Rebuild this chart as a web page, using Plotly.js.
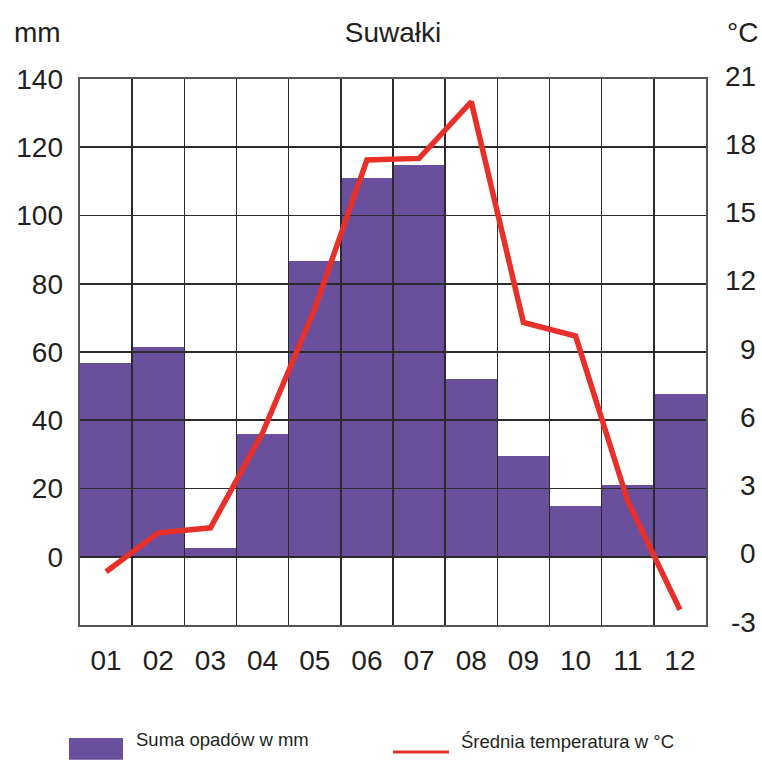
<!DOCTYPE html>
<html>
<head>
<meta charset="utf-8">
<script src="https://cdn.plot.ly/plotly-3.0.1.min.js"></script>
<style>
html,body{margin:0;padding:0;background:#fff;}
#chart{width:762px;height:760px;}
</style>
</head>
<body>
<div id="chart"></div>
<script>
const months = ['01','02','03','04','05','06','07','08','09','10','11','12'];
const precipitation = [56.7, 61.4, 2.7, 35.9, 86.7, 111.1, 114.8, 52.0, 29.4, 14.9, 21.0, 47.7];
const temperature = [-0.66, 1.05, 1.27, 5.45, 10.9, 17.44, 17.51, 20.0, 10.3, 9.7, 2.45, -2.33];
const mmTicks = [0, 20, 40, 60, 80, 100, 120, 140];
const tempTicks = [-3, 0, 3, 6, 9, 12, 15, 18, 21];
const chartTitle = 'Suwałki';
const leftUnit = 'mm';
const rightUnit = '°C';
const precipName = 'Suma opadów w mm';
const tempName = 'Średnia temperatura w °C';

const FONT = 'Liberation Sans, Arial, sans-serif';
const TXT = '#231f20';
const GRID = '#2b2b2b';
const PURPLE = '#6a4f9d';
const RED = '#e8302a';
const catRange = [-0.5, months.length - 0.5];

const traces = [
  {type:'bar', x: months, y: precipitation, xaxis:'x', yaxis:'y',
   marker:{color: PURPLE, line:{width:0}}, name: precipName, hoverinfo:'skip'},
  {type:'scatter', mode:'lines', x: months, y: temperature, xaxis:'x2', yaxis:'y2',
   line:{color: RED, width: 5.5}, name: tempName, hoverinfo:'skip'}
];

const annotations = [
  {text: leftUnit, xref:'paper', yref:'paper', x:-0.1086, y:1.086, xanchor:'left', yanchor:'middle', showarrow:false, font:{family:FONT, size:28, color:TXT}},
  {text: rightUnit, xref:'paper', yref:'paper', x:1.086, y:1.086, xanchor:'right', yanchor:'middle', showarrow:false, font:{family:FONT, size:28, color:TXT}},
  {text: precipName, xref:'paper', yref:'paper', x:0.0863, y:-0.2088, xanchor:'left', yanchor:'middle', showarrow:false, font:{family:FONT, size:18.5, color:TXT}},
  {text: tempName, xref:'paper', yref:'paper', x:0.6054, y:-0.2125, xanchor:'left', yanchor:'middle', showarrow:false, font:{family:FONT, size:18.5, color:TXT}}
];
tempTicks.forEach(v => annotations.push({
  text: String(v), xref:'paper', yref:'y2', x:1.083, y:v, xanchor:'right', yanchor:'middle',
  yshift:3, showarrow:false, font:{family:FONT, size:28, color:TXT}
}));

const shapes = [
  {type:'rect', xref:'paper', yref:'paper', x0:-0.0176, x1:0.0687, y0:-0.247, y1:-0.207, fillcolor:PURPLE, line:{width:0}},
  {type:'line', xref:'paper', yref:'paper', x0:0.5, x1:0.5895, y0:-0.2326, y1:-0.2326, line:{color:RED, width:3}}
];

const layout = {
  width:762, height:760,
  margin:{l:80, r:56, t:79, b:135, pad:0},
  paper_bgcolor:'#ffffff', plot_bgcolor:'rgba(0,0,0,0)',
  showlegend:false, bargap:0,
  font:{family:FONT, color:TXT},
  title:{text: chartTitle, x:0.5, xref:'paper', xanchor:'center', y:1-32/760, yanchor:'middle', yref:'container',
         font:{family:FONT, size:28, color:TXT}},
  xaxis:{type:'category', domain:[0,1], anchor:'y', range:catRange, autorange:false, showticklabels:false, showgrid:false, zeroline:false, ticks:''},
  yaxis:{domain:[0,1], anchor:'x', range:[-20,140], tickvals: mmTicks, ticktext: mmTicks.map(String),
         showgrid:false, zeroline:false, ticks:'', ticklabelstandoff:16,
         tickfont:{family:FONT, size:28, color:TXT}},
  xaxis2:{type:'category', domain:[0,1], anchor:'y2', range:catRange, autorange:false, showgrid:true, gridcolor:GRID, gridwidth:1.6,
          tickson:'boundaries', ticks:'', showline:true, mirror:true, linecolor:'#555', linewidth:1.8,
          zeroline:false, ticklabelstandoff:10, tickfont:{family:FONT, size:28, color:TXT}},
  yaxis2:{domain:[0,1], anchor:'x2', side:'right', range:[-3,21], tickvals: tempTicks,
          showgrid:true, gridcolor:GRID, gridwidth:1.6, zeroline:false, showticklabels:false, ticks:'',
          showline:true, mirror:true, linecolor:'#555', linewidth:1.8},
  annotations: annotations,
  shapes: shapes
};

Plotly.newPlot('chart', traces, layout, {displayModeBar:false, staticPlot:true});
</script>
</body>
</html>
